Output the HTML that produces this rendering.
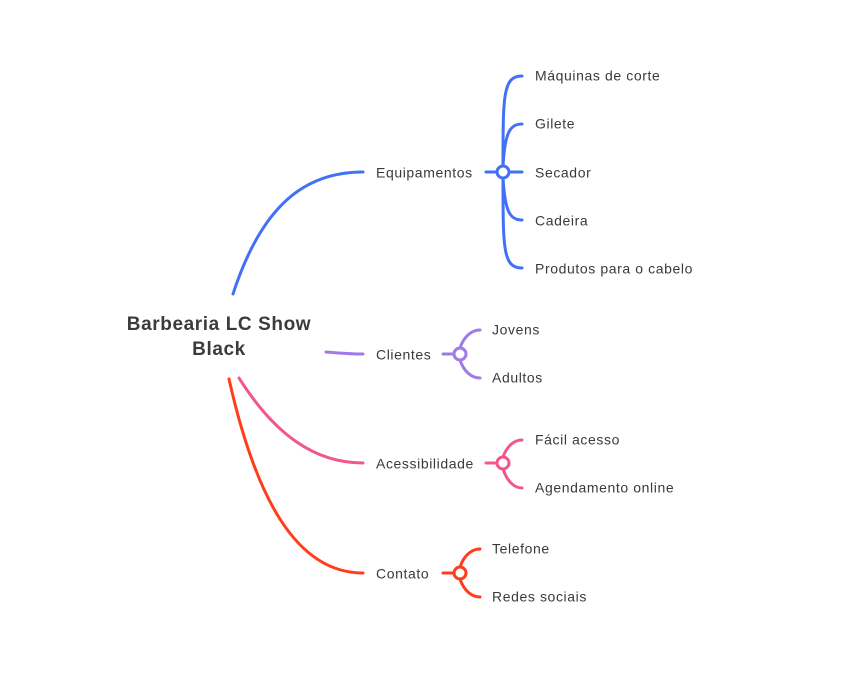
<!DOCTYPE html>
<html><head><meta charset="utf-8"><style>
html,body{margin:0;padding:0;background:#fff;}
svg{display:block}
text{font-family:"Liberation Sans",sans-serif;font-size:14px;fill:#3a3a3a;dominant-baseline:middle;letter-spacing:0.6px}
</style></head><body>
<svg width="861" height="684" viewBox="0 0 861 684" fill="none" stroke-width="3" stroke-linecap="round">
<g>
<text x="219" y="325" text-anchor="middle" style="font-size:19px;font-weight:bold;fill:#3b3b3b">Barbearia LC Show</text>
<text x="219" y="350" text-anchor="middle" style="font-size:19px;font-weight:bold;fill:#3b3b3b">Black</text>
</g>
<g stroke="#4271f5">
<path d="M233,294 C262,205 305,172 363,172"/>
<text x="376" y="174" stroke="none">Equipamentos</text>
<path d="M486,172 L497,172 M509,172 L522,172"/>
<path d="M503,166 C503,95 503,76 522,76"/>
<path d="M503,166 C505,132 510,124 522,124"/>
<path d="M503,178 C505,212 510,220 522,220"/>
<path d="M503,178 C503,249 503,268 522,268"/>
<circle cx="503" cy="172" r="6" fill="#fff"/>
<text x="535" y="77" stroke="none">Máquinas de corte</text>
<text x="535" y="125" stroke="none">Gilete</text>
<text x="535" y="174" stroke="none">Secador</text>
<text x="535" y="222" stroke="none">Cadeira</text>
<text x="535" y="270" stroke="none">Produtos para o cabelo</text>
</g>
<g stroke="#a07ae8">
<path d="M326,352 C340,353 350,354 363,354"/>
<text x="376" y="356" stroke="none">Clientes</text>
<path d="M443,354 L454,354"/>
<path d="M460,348 C464,336 472,330 480,330"/>
<path d="M460,360 C464,372 472,378 480,378"/>
<circle cx="460" cy="354" r="6" fill="#fff"/>
<text x="492" y="331" stroke="none">Jovens</text>
<text x="492" y="379" stroke="none">Adultos</text>
</g>
<g stroke="#f2578a">
<path d="M239,378 C275,435 315,463 363,463"/>
<text x="376" y="465" stroke="none">Acessibilidade</text>
<path d="M486,463 L497,463"/>
<path d="M503,457 C507,446 514,440 522,440"/>
<path d="M503,469 C507,481 514,488 522,488"/>
<circle cx="503" cy="463" r="6" fill="#fff"/>
<text x="535" y="441" stroke="none">Fácil acesso</text>
<text x="535" y="489" stroke="none">Agendamento online</text>
</g>
<g stroke="#ff3d1c">
<path d="M229,379 C255,495 295,573 363,573"/>
<text x="376" y="575" stroke="none">Contato</text>
<path d="M443,573 L454,573"/>
<path d="M460,567 C464,555 472,549 480,549"/>
<path d="M460,579 C464,591 472,597 480,597"/>
<circle cx="460" cy="573" r="6" fill="#fff"/>
<text x="492" y="550" stroke="none">Telefone</text>
<text x="492" y="598" stroke="none">Redes sociais</text>
</g>
</svg>
</body></html>
